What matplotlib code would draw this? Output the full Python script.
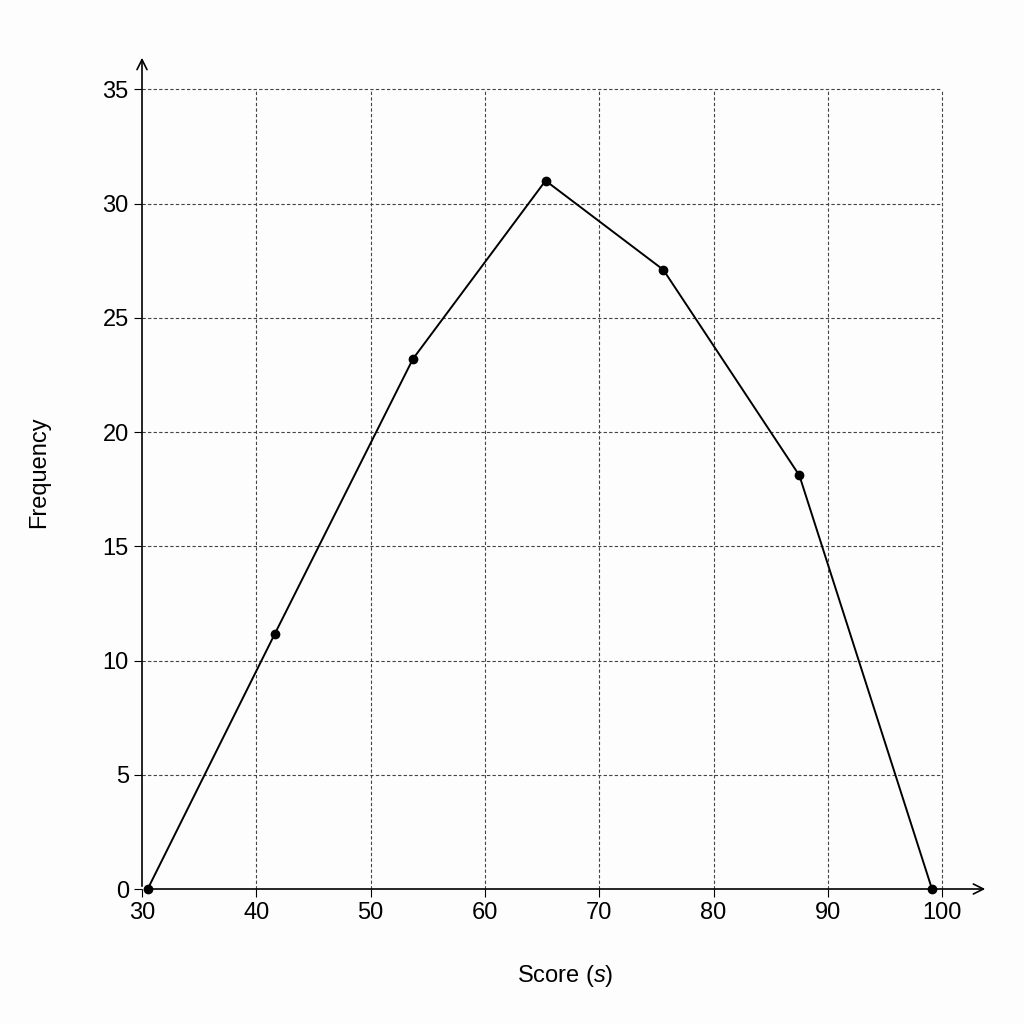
import matplotlib
matplotlib.use("Agg")
import matplotlib.pyplot as plt

plt.rcParams['font.family'] = ['Liberation Sans', 'DejaVu Sans']
plt.rcParams['mathtext.fontset'] = 'custom'
plt.rcParams['mathtext.it'] = 'Liberation Sans:italic'

scores = [30.5, 41.6, 53.7, 65.3, 75.6, 87.5, 99.1]
freqs = [0, 11.15, 23.2, 31.0, 27.1, 18.1, 0]
xticks = [30, 40, 50, 60, 70, 80, 90, 100]
yticks = [0, 5, 10, 15, 20, 25, 30, 35]

fig = plt.figure(figsize=(10.24, 10.24), dpi=100)
fig.patch.set_facecolor("#fdfdfd")
ax = fig.add_axes([142/1024, 1-889/1024, 846/1024, 834/1024])
ax.set_facecolor("#fdfdfd")
ax.set_xlim(30, 104)
ax.set_ylim(0, 36.5)
for s in ["top", "right", "left", "bottom"]:
    ax.spines[s].set_visible(False)
ax.annotate("", xy=(1.0, 0), xytext=(0, 0), xycoords="axes fraction",
            arrowprops=dict(arrowstyle="->", lw=1.2, color="black", mutation_scale=18))
ax.annotate("", xy=(0, 1.0), xytext=(0, 0), xycoords="axes fraction",
            arrowprops=dict(arrowstyle="->", lw=1.2, color="black", mutation_scale=18))
ax.vlines(xticks[1:], 0, 35, colors="#444", linestyles=(0, (3, 2)), linewidth=0.8, zorder=0)
ax.hlines(yticks[1:], 30, 100, colors="#444", linestyles=(0, (3, 2)), linewidth=0.8, zorder=0)
ax.plot(scores, freqs, color="black", lw=1.4, marker="o", ms=6, clip_on=False, zorder=3)
ax.set_xticks(xticks)
ax.set_yticks(yticks)
ax.tick_params(labelsize=17, length=6)
ax.set_xlabel("Score ($s$)", fontsize=17, labelpad=28)
ax.set_ylabel("Frequency", fontsize=17, labelpad=38)
fig.savefig("out.png", dpi=100, facecolor=fig.get_facecolor())
